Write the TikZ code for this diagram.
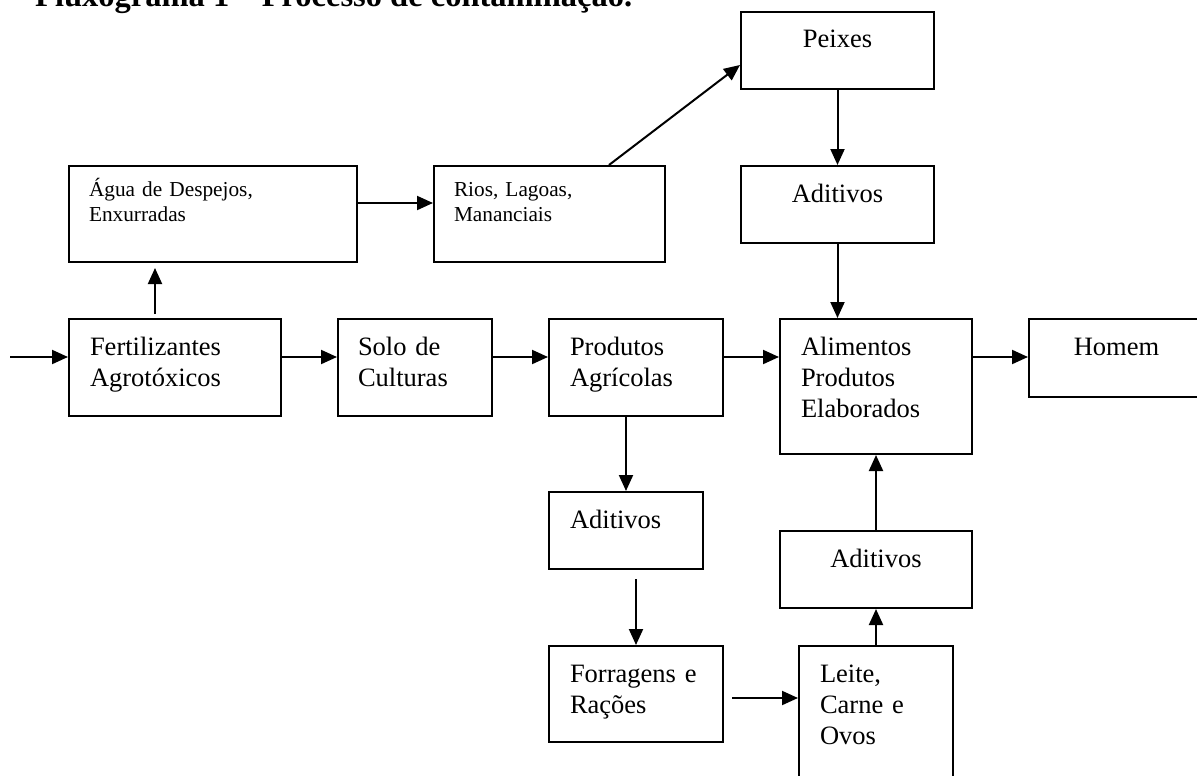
\documentclass[tikz,border=0pt]{standalone}
\usepackage{fontspec}
\setmainfont{Liberation Serif}
\usetikzlibrary{arrows.meta,shapes,positioning}
\newcommand\bodyfont{\fontsize{26.5pt}{31pt}\selectfont}
\newcommand\notefont{\fontsize{21.3pt}{25pt}\selectfont}
\newcommand\headfont{\fontsize{32.5pt}{38pt}\selectfont\bfseries}

\begin{document}
\begin{tikzpicture}[x=1pt, y=-1pt,
    block/.style={rectangle, draw, line width=2pt, anchor=north west, inner xsep=21pt, inner ysep=0pt,
      align=left, text height=36pt, font=\bodyfont},
    cblock/.style={block, align=center},
    nblock/.style={block, inner xsep=20pt, text height=30pt, font=\notefont},
    arrow/.style={-{Triangle[length=16pt, width=14pt]}, line width=2pt}]

\useasboundingbox (0,0) rectangle (1197,776);

\node[anchor=base west, inner sep=0pt, font=\headfont] (title) at (35,7) {Fluxograma 1 -- Processo de contaminação.};

\node[cblock, text width=151pt, text depth=41pt] (peixes) at (740,11) {Peixes};
\node[cblock, text width=151pt, text depth=41pt] (aditA) at (740,165) {Aditivos};
\node[nblock, text width=248pt, text depth=66pt] (agua) at (68,165) {Água de Despejos,\\Enxurradas};
\node[nblock, text width=191pt, text depth=66pt] (rios) at (433,165) {Rios, Lagoas,\\Mananciais};
\node[block, text width=170pt, text depth=61pt] (fert) at (68,318) {Fertilizantes\\Agrotóxicos};
\node[block, inner xsep=20pt, text width=114pt, text depth=61pt] (solo) at (337,318) {Solo de\\Culturas};
\node[block, text width=132pt, text depth=61pt] (prod) at (548,318) {Produtos\\Agrícolas};
\node[block, text width=150pt, text depth=99pt] (alim) at (779,318) {Alimentos\\Produtos\\Elaborados};
\node[cblock, text width=133pt, text depth=42pt] (homem) at (1028,318) {Homem};
\node[block, text width=112pt, text depth=41pt] (aditB) at (548,491) {Aditivos};
\node[block, text width=132pt, text depth=60pt] (forr) at (548,645) {Forragens e\\Rações};
\node[block, text width=112pt, text depth=140pt] (leite) at (798,645) {Leite,\\Carne e\\Ovos};
\node[cblock, text width=150pt, text depth=41pt] (aditC) at (779,530) {Aditivos};

\coordinate (start) at (10,357);
\coordinate (fa) at ([xshift=87pt]fert.north west);
\coordinate (ar) at ([yshift=-38pt]agua.north east);
\coordinate (fl) at ([yshift=-4pt]forr.east);

\draw[arrow] (start) -- (fert.west |- start);
\draw[arrow, shorten <=4pt, shorten >=5pt] (fa) -- (fa |- agua.south);
\draw[arrow] (ar) -- (rios.west |- ar);
\draw[arrow] ([xshift=176pt]rios.north west) -- ([yshift=-54pt]peixes.north west);
\draw[arrow] (peixes.south) -- (aditA.north);
\draw[arrow] (aditA.south) -- (aditA.south |- alim.north);
\draw[arrow] (fert.east |- start) -- (solo.west |- start);
\draw[arrow] (solo.east |- start) -- (prod.west |- start);
\draw[arrow] (prod.east |- start) -- (alim.west |- start);
\draw[arrow] (alim.east |- start) -- (homem.west |- start);
\draw[arrow] (prod.south -| aditB.north) -- (aditB.north);
\draw[arrow, shorten <=9pt] (aditB.south -| forr.north) -- (forr.north);
\draw[arrow, shorten <=8pt] (fl) -- (leite.west |- fl);
\draw[arrow] (leite.north) -- (aditC.south);
\draw[arrow] (aditC.north) -- (alim.south);

\end{tikzpicture}
\end{document}
